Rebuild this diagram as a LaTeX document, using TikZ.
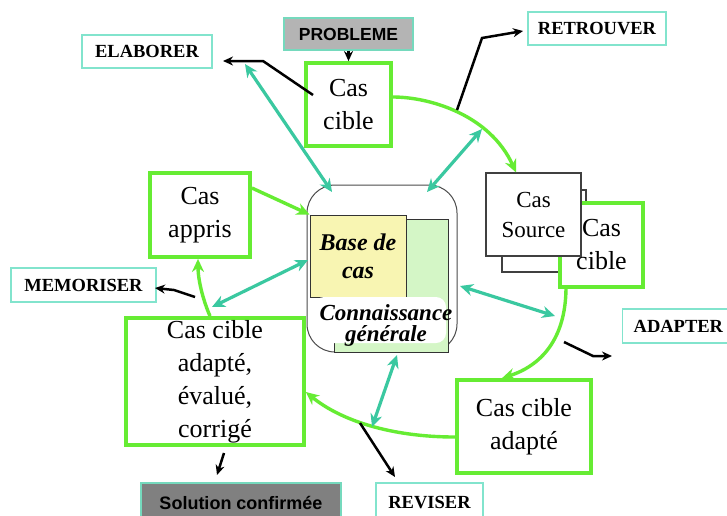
\documentclass[tikz,border=0pt]{standalone}
\usepackage{fontspec}
\setmainfont{Liberation Serif}
\newfontfamily\arialf{Liberation Sans}
\usetikzlibrary{arrows.meta}
\definecolor{cgreen}{RGB}{102,236,51}
\definecolor{cteal}{RGB}{58,200,160}
\definecolor{clab}{RGB}{130,228,205}
\definecolor{cyel}{RGB}{248,245,178}
\definecolor{cgl}{RGB}{212,246,198}
\definecolor{cgray}{RGB}{180,180,180}
\definecolor{cdgray}{RGB}{128,128,128}
\begin{document}
\begin{tikzpicture}[x=1pt,y=-1pt,
  gbox/.style={draw=cgreen, line width=3.8pt, fill=white, inner sep=0pt, align=center,
    font=\fontsize{26}{33}\selectfont},
  lbl/.style={draw=clab, line width=1.3pt, fill=white, inner sep=0pt,
    font=\fontsize{18.5}{20}\selectfont\bfseries},
  tarr/.style={draw=cteal, line width=3.2pt,
    {Stealth[length=13pt,width=12pt]}-{Stealth[length=13pt,width=12pt]}},
  garr/.style={draw=cgreen, line width=3.4pt, -{Stealth[length=13pt,width=12pt]}},
  barr/.style={draw=black, line width=2.5pt, -{Stealth[length=10pt,width=9pt]}},
  gbox2/.style={draw=black!75, line width=1.2pt, fill=white, inner sep=0pt, align=center}
]
\clip (0,0) rectangle (727,515);
\fill[white] (0,0) rectangle (727,515);

% central knowledge block
\node[draw=black!70, line width=1pt, rounded corners=28pt, minimum width=150pt, minimum height=167pt, inner sep=0pt] (kb) at (382,268.5) {};
\node[draw=black!80, line width=1pt, fill=cgl, minimum width=114pt, minimum height=133pt, inner sep=0pt] (kg) at (391.5,285.5) {};
\node[draw=black!80, line width=1pt, fill=cyel, minimum width=96pt, minimum height=82pt, inner sep=0pt, align=center,
  font=\fontsize{24}{28}\selectfont\bfseries\itshape] (base) at (358,256) {Base de\\cas};
\node[fill=white, rounded corners=10pt, minimum width=132pt, minimum height=46pt, inner sep=0pt] (cglab) at (380,320) {};
\node[inner sep=0pt, align=center, font=\fontsize{23}{21}\selectfont\bfseries\itshape] (cgtext) at (386,325) {Connaissance\\générale};

% labels
\node[lbl, fill=cgray, draw=cteal!70, minimum width=129pt, minimum height=32pt,
  font=\arialf\fontsize{17.5}{20}\selectfont\bfseries] (prob) at (348.5,34) {PROBLEME};
\node[lbl, minimum width=130pt, minimum height=33pt] (elab) at (147,51.5) {ELABORER};
\node[lbl, minimum width=138pt, minimum height=33pt] (retr) at (597,28.5) {RETROUVER};
\node[lbl, minimum width=145pt, minimum height=34pt] (memo) at (83.5,285) {MEMORISER};
\node[lbl, anchor=west, inner xsep=11pt, minimum height=34pt] (adap) at (622,326) {ADAPTER};
\node[lbl, minimum width=107pt, minimum height=40pt] (rev) at (429.5,503) {\raisebox{-3pt}{REVISER}};
\node[lbl, fill=cdgray, draw=cteal!70, minimum width=200pt, minimum height=40pt,
  font=\arialf\fontsize{18}{20}\selectfont\bfseries] (sol) at (241,503) {\raisebox{-3pt}{Solution confirmée}};

% green case boxes
\node[gbox, minimum width=85pt, minimum height=83pt] (cc1) at (348.5,104.5) {Cas\\cible};
\node[gbox, minimum width=100pt, minimum height=84pt] (appris) at (200,215) {Cas\\appris};
\node[gbox2, minimum width=84pt, minimum height=82pt] (csback) at (544,231) {};
\node[gbox, minimum width=83pt, minimum height=84pt] (ccr) at (601.5,245) {Cas\\cible};
\node[gbox2, minimum width=95pt, minimum height=83pt, font=\fontsize{23}{30}\selectfont] (csrc) at (533.5,214.5) {Cas\\Source};
\node[gbox, minimum width=134pt, minimum height=93pt] (cca) at (524,426.5) {Cas cible\\adapté};
\node[gbox, minimum width=178pt, minimum height=127pt] (ccae) at (215,381.5) {Cas cible\\adapté,\\évalué,\\corrigé};

% named free ends
\coordinate (e1) at (313,95);
\coordinate (e1a) at (223,61);
\coordinate (r1) at (457,110);
\coordinate (r1a) at (523,31);
\coordinate (m1) at (195,297);
\coordinate (m1a) at (155,288);
\coordinate (a1) at (564,342);
\coordinate (a1a) at (612,356);
\coordinate (v1) at (360,423);
\coordinate (v1a) at (395,477);
\coordinate (s1) at (224,453);
\coordinate (s1a) at (217,475);
\coordinate (t1a) at (245,64);
\coordinate (t1b) at (332,192);
\coordinate (t2a) at (482,129);
\coordinate (t2b) at (427,192);
\coordinate (t3a) at (212,307);
\coordinate (t3b) at (308,260);
\coordinate (t4a) at (460,286);
\coordinate (t4b) at (555,316);
\coordinate (t5a) at (397,355);
\coordinate (t5b) at (372,427);

% green flow arrows
\draw[garr] (cc1.east |- 0,97) .. controls (430,97) and (490,115) .. (csrc.north -| 516,0);
\draw[garr] (566,287) .. controls (566,340) and (540,366) .. (cca.north -| 502,0);
\draw[garr] (cca.west |- 0,437) .. controls (390,437) and (340,420) .. (ccae.east |- 0,392);
\draw[garr] (ccae.north -| 210,0) .. controls (203,300) and (198,280) .. (appris.south -| 198,0);
\draw[garr] (appris.east |- 0,188) -- (base.north west);

% teal double arrows
\draw[tarr] (t1a) -- (t1b);
\draw[tarr] (t2a) -- (t2b);
\draw[tarr] (t3a) -- (t3b);
\draw[tarr] (t4a) -- (t4b);
\draw[tarr] (t5a) -- (t5b);

% black arrows
\draw[barr] (prob.south) -- (cc1.north);
\draw[barr] (e1) -- (263,61) -- (e1a);
\draw[barr] (r1) -- (482,38) -- (r1a);
\draw[barr] (m1) -- (174,290) -- (m1a);
\draw[barr] (a1) -- (593,356) -- (a1a);
\draw[barr] (v1) -- (v1a);
\draw[barr] (s1) -- (s1a);
\end{tikzpicture}
\end{document}
